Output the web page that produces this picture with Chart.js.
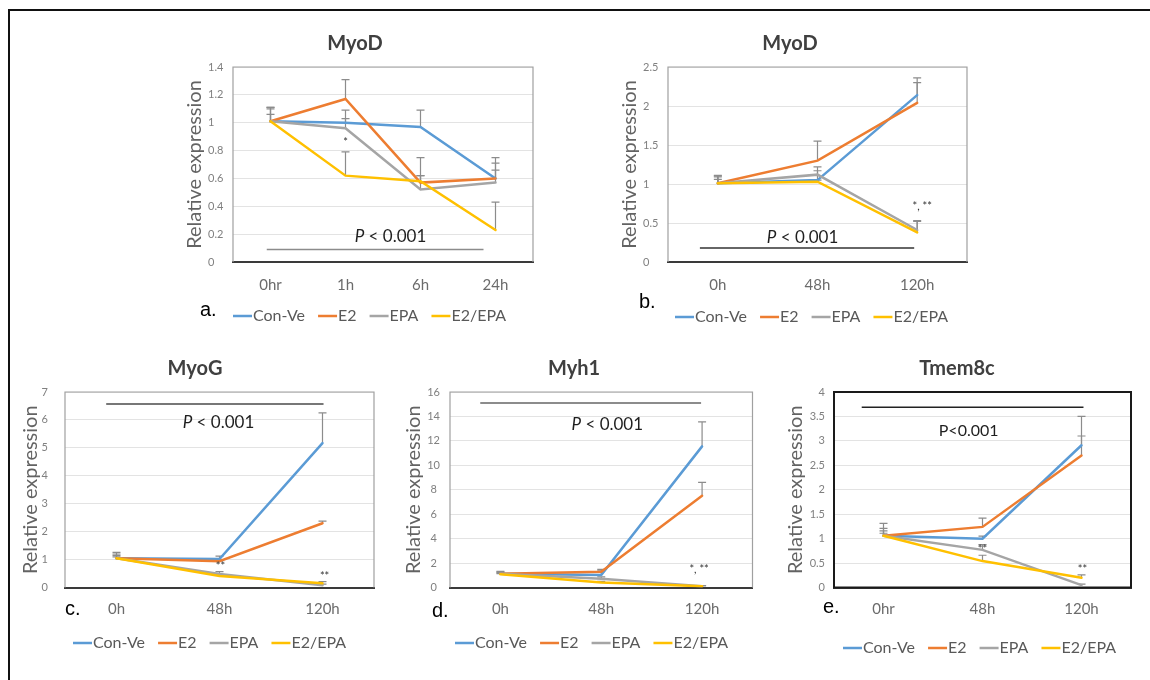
<!DOCTYPE html>
<html>
<head>
<meta charset="utf-8">
<title>MyoD / MyoG / Myh1 / Tmem8c</title>
<script src="https://cdn.jsdelivr.net/npm/chart.js@4.4.0/dist/chart.umd.min.js"></script>
<style>
    html, body { margin: 0; padding: 0; background: #fff; }
    #page { position: relative; width: 1150px; height: 680px; overflow: hidden; }
    #frame { position: absolute; left: 8px; top: 9px; width: 1300px; height: 800px;
             border-left: 2px solid #111; border-top: 2px solid #111; }
    canvas { position: absolute; left: 0; top: 0; }
</style>
</head>
<body>
<div id="page">
    <div id="frame"></div>
    <canvas id="chartA" width="1150" height="680"></canvas>
    <canvas id="chartB" width="1150" height="680"></canvas>
    <canvas id="chartC" width="1150" height="680"></canvas>
    <canvas id="chartD" width="1150" height="680"></canvas>
    <canvas id="chartE" width="1150" height="680"></canvas>
</div>
<script>
// 数据 - 各组相对表达量
const SERIES_NAMES = ['Con-Ve', 'E2', 'EPA', 'E2/EPA'];
const SERIES_COLORS = ['#5B9BD5', '#ED7D31', '#A5A5A5', '#FFC000'];

// a. MyoD (0hr - 24h)
const labelsA = ['0hr', '1h', '6h', '24h'];
const conVeA = [1.01, 1.00, 0.97, 0.60];
const e2A = [1.01, 1.17, 0.57, 0.60];
const epaA = [1.01, 0.96, 0.52, 0.57];
const e2epaA = [1.01, 0.62, 0.58, 0.23];
const errConVeA = [0.10, 0.03, 0.12, 0.06];
const errE2A = [0.09, 0.14, 0.18, 0.15];
const errEpaA = [0.10, 0.13, 0.10, 0.14];
const errE2epaA = [0.05, 0.17, 0.04, 0.20];

// b. MyoD (0h - 120h)
const labelsB = ['0h', '48h', '120h'];
const conVeB = [1.01, 1.05, 2.14];
const e2B = [1.01, 1.30, 2.04];
const epaB = [1.01, 1.12, 0.41];
const e2epaB = [1.01, 1.03, 0.38];
const errConVeB = [0.10, 0.12, 0.22];
const errE2B = [0.08, 0.25, 0.26];
const errEpaB = [0.09, 0.10, 0.12];
const errE2epaB = [0.05, 0.02, 0.14];

// c. MyoG
const labelsC = ['0h', '48h', '120h'];
const conVeC = [1.05, 1.02, 5.17];
const e2C = [1.05, 0.94, 2.30];
const epaC = [1.05, 0.48, 0.08];
const e2epaC = [1.05, 0.41, 0.15];
const errConVeC = [0.21, 0.10, 1.08];
const errE2C = [0.15, 0.05, 0.08];
const errEpaC = [0.10, 0.09, 0.04];
const errE2epaC = [0.05, 0.05, 0.06];

// d. Myh1
const labelsD = ['0h', '48h', '120h'];
const conVeD = [1.12, 1.02, 11.55];
const e2D = [1.12, 1.28, 7.50];
const epaD = [1.12, 0.72, 0.10];
const e2epaD = [1.08, 0.40, 0.10];
const errConVeD = [0.20, 0.35, 2.00];
const errE2D = [0.15, 0.20, 1.10];
const errEpaD = [0.10, 0.15, 0.05];
const errE2epaD = [0.05, 0.10, 0.05];

// e. Tmem8c
const labelsE = ['0hr', '48h', '120h'];
const conVeE = [1.06, 1.00, 2.91];
const e2E = [1.06, 1.24, 2.70];
const epaE = [1.06, 0.77, 0.05];
const e2epaE = [1.06, 0.54, 0.20];
const errConVeE = [0.25, 0.05, 0.59];
const errE2E = [0.15, 0.18, 0.40];
const errEpaE = [0.10, 0.11, 0.02];
const errE2epaE = [0.05, 0.12, 0.06];

const FONT = 'Lato, "Open Sans", sans-serif';
const AXIS_TITLE_SIZE = 20;
Chart.defaults.font.family = FONT;

/**
 * 装饰插件：绘图区边框、误差线、标题、图例、P值与星号
 */
const decorPlugin = {
    id: 'decor',
    beforeDatasetsDraw(chart, args, o) {
        drawPlotBorder(chart, o);
        drawErrorBars(chart, o);
    },
    afterDraw(chart, args, o) {
        drawHeading(chart, o);
        drawLegend(chart, o);
        drawPValue(chart, o);
        drawStars(chart, o);
    }
};

function drawPlotBorder(chart, o) {
    const {ctx, chartArea: a} = chart;
    ctx.save();
    if (o.darkBox) {
        ctx.strokeStyle = '#1a1a1a';
        ctx.lineWidth = 2;
        ctx.strokeRect(a.left, a.top, a.right - a.left, a.bottom - a.top);
    } else {
        ctx.strokeStyle = '#a0a0a0';
        ctx.lineWidth = 1.2;
        ctx.beginPath();
        ctx.moveTo(a.left, a.bottom);
        ctx.lineTo(a.left, a.top);
        ctx.lineTo(a.right, a.top);
        ctx.lineTo(a.right, a.bottom);
        ctx.stroke();
    }
    ctx.restore();
}

function drawErrorBars(chart, o) {
    const {ctx} = chart;
    const ys = chart.scales.y;
    ctx.save();
    ctx.strokeStyle = '#8c8c8c';
    ctx.lineWidth = 1.2;
    chart.data.datasets.forEach((ds, i) => {
        const meta = chart.getDatasetMeta(i);
        ds.errors.forEach((err, j) => {
            const pt = meta.data[j];
            const top = ys.getPixelForValue(ds.data[j] + err);
            ctx.beginPath();
            ctx.moveTo(pt.x, pt.y);
            ctx.lineTo(pt.x, top);
            ctx.moveTo(pt.x - 4, top);
            ctx.lineTo(pt.x + 4, top);
            ctx.stroke();
        });
    });
    ctx.restore();
}

function drawHeading(chart, o) {
    const {ctx} = chart;
    ctx.save();
    ctx.fillStyle = '#404040';
    ctx.font = 'bold 20px ' + FONT;
    ctx.textAlign = 'center';
    ctx.textBaseline = 'alphabetic';
    ctx.fillText(o.title.text, o.title.x, o.title.y);
    ctx.fillStyle = '#000';
    ctx.font = '20px "Liberation Sans", Arial, sans-serif';
    ctx.textAlign = 'left';
    ctx.fillText(o.letter.text, o.letter.x, o.letter.y);
    ctx.restore();
}

function drawLegend(chart, o) {
    const {ctx} = chart;
    let x = o.legend.x;
    const y = o.legend.y;
    ctx.save();
    ctx.font = '16px ' + FONT;
    ctx.textBaseline = 'middle';
    ctx.textAlign = 'left';
    chart.data.datasets.forEach(ds => {
        ctx.strokeStyle = ds.borderColor;
        ctx.lineWidth = 2.5;
        ctx.beginPath();
        ctx.moveTo(x, y);
        ctx.lineTo(x + 19, y);
        ctx.stroke();
        ctx.fillStyle = '#595959';
        ctx.fillText(ds.label, x + 20, y);
        x += 20 + ctx.measureText(ds.label).width + 13;
    });
    ctx.restore();
}

function drawPValue(chart, o) {
    const p = o.pValue;
    const {ctx} = chart;
    const xs = chart.scales.x, ys = chart.scales.y;
    ctx.save();
    ctx.strokeStyle = p.lineColor;
    ctx.lineWidth = 1.5;
    const ly = ys.getPixelForValue(p.lineY);
    ctx.beginPath();
    ctx.moveTo(xs.getPixelForValue(p.from), ly);
    ctx.lineTo(xs.getPixelForValue(p.to), ly);
    ctx.stroke();

    const tx = xs.getPixelForValue(p.textX);
    const ty = ys.getPixelForValue(p.textY);
    ctx.fillStyle = '#1f1f1f';
    ctx.textBaseline = 'middle';
    ctx.textAlign = 'left';
    const head = p.text.charAt(0);
    const rest = p.text.slice(1);
    const headFont = (p.italic ? 'italic ' : '') + p.size + 'px ' + FONT;
    const restFont = p.size + 'px ' + FONT;
    ctx.font = headFont;
    const w1 = ctx.measureText(head).width;
    ctx.font = restFont;
    const w2 = ctx.measureText(rest).width;
    const x0 = tx - (w1 + w2) / 2;
    ctx.font = headFont;
    ctx.fillText(head, x0, ty);
    ctx.font = restFont;
    ctx.fillText(rest, x0 + w1, ty);
    ctx.restore();
}

function drawStars(chart, o) {
    const {ctx} = chart;
    const xs = chart.scales.x, ys = chart.scales.y;
    ctx.save();
    ctx.fillStyle = '#333';
    ctx.font = '11px ' + FONT;
    ctx.textAlign = 'center';
    ctx.textBaseline = 'middle';
    o.stars.forEach(s => {
        ctx.fillText(s.text, xs.getPixelForValue(s.x), ys.getPixelForValue(s.y));
    });
    ctx.restore();
}

/**
 * 创建一个面板（整页大小的透明画布，用 padding 定位绘图区）
 */
function makePanel(p) {
    const area = p.area;
    const Hx = 40;
    const lineH = AXIS_TITLE_SIZE * 1.2;
    const seriesData = [p.conVe, p.e2, p.epa, p.e2epa];
    const seriesErr = [p.errConVe, p.errE2, p.errEpa, p.errE2epa];

    const datasets = SERIES_NAMES.map((name, i) => ({
        label: name,
        data: seriesData[i],
        errors: seriesErr[i],
        borderColor: SERIES_COLORS[i],
        backgroundColor: SERIES_COLORS[i],
        borderWidth: 2.5,
        pointRadius: 0,
        tension: 0,
        fill: false,
        borderCapStyle: 'round',
        order: 4 - i
    }));

    return new Chart(document.getElementById(p.id).getContext('2d'), {
        type: 'line',
        data: { labels: p.labels, datasets },
        options: {
            responsive: false,
            animation: false,
            events: [],
            layout: {
                padding: {
                    left: area.left - p.yWidth,
                    top: area.top,
                    right: 1150 - area.right,
                    bottom: 680 - area.bottom - Hx
                }
            },
            plugins: {
                legend: { display: false },
                title: { display: false },
                tooltip: { enabled: false },
                decor: p.decor
            },
            scales: {
                x: {
                    type: 'category',
                    offset: true,
                    grid: { display: false, drawTicks: false },
                    border: { display: true, color: '#3a3a3a', width: 2 },
                    ticks: { color: '#6b6b6b', font: { size: 15 }, padding: p.xPad, maxRotation: 0 },
                    afterFit: s => { s.height = Hx; }
                },
                y: {
                    min: 0,
                    max: p.yMax,
                    grid: { color: '#e3e3e3', lineWidth: 1, drawTicks: false },
                    border: { display: false },
                    ticks: {
                        stepSize: p.yStep,
                        color: '#808080',
                        font: { size: 11 },
                        crossAlign: p.yAlign,
                        padding: p.yPad,
                        callback: v => String(+Number(v).toFixed(2))
                    },
                    title: {
                        display: true,
                        text: 'Relative expression',
                        color: '#636363',
                        font: { size: AXIS_TITLE_SIZE },
                        padding: { top: p.yTitleX - (area.left - p.yWidth) - lineH / 2, bottom: 0 }
                    },
                    afterFit: s => { s.width = p.yWidth; }
                }
            }
        },
        plugins: [decorPlugin]
    });
}

makePanel({
    id: 'chartA', labels: labelsA,
    conVe: conVeA, e2: e2A, epa: epaA, e2epa: e2epaA,
    errConVe: errConVeA, errE2: errE2A, errEpa: errEpaA, errE2epa: errE2epaA,
    area: { left: 233, top: 67, right: 533, bottom: 262 },
    yMax: 1.4, yStep: 0.2, yWidth: 25, yAlign: 'far', yPad: 3, yTitleX: 195, xPad: 14,
    decor: {
        title: { text: 'MyoD', x: 355, y: 50 },
        letter: { text: 'a.', x: 200, y: 316 },
        legend: { x: 233, y: 316 },
        pValue: { lineY: 0.09, from: -0.05, to: 2.84, lineColor: '#8c8c8c',
                  text: 'P < 0.001', italic: true, size: 17, textX: 1.6, textY: 0.18 },
        stars: [{ text: '*', x: 1, y: 0.86 }]
    }
});

makePanel({
    id: 'chartB', labels: labelsB,
    conVe: conVeB, e2: e2B, epa: epaB, e2epa: e2epaB,
    errConVe: errConVeB, errE2: errE2B, errEpa: errEpaB, errE2epa: errE2epaB,
    area: { left: 668, top: 67, right: 967, bottom: 262 },
    yMax: 2.5, yStep: 0.5, yWidth: 25, yAlign: 'far', yPad: 3, yTitleX: 630, xPad: 14,
    decor: {
        title: { text: 'MyoD', x: 790, y: 50 },
        letter: { text: 'b.', x: 639, y: 308 },
        legend: { x: 675, y: 317 },
        pValue: { lineY: 0.18, from: -0.18, to: 1.97, lineColor: '#333',
                  text: 'P < 0.001', italic: true, size: 17, textX: 0.85, textY: 0.32 },
        stars: [{ text: '*, **', x: 2.05, y: 0.71 }]
    }
});

makePanel({
    id: 'chartC', labels: labelsC,
    conVe: conVeC, e2: e2C, epa: epaC, e2epa: e2epaC,
    errConVe: errConVeC, errE2: errE2C, errEpa: errEpaC, errE2epa: errE2epaC,
    area: { left: 65, top: 392, right: 374, bottom: 587.5 },
    yMax: 7, yStep: 1, yWidth: 30, yAlign: 'near', yPad: 17, yTitleX: 31, xPad: 13,
    decor: {
        title: { text: 'MyoG', x: 195, y: 375 },
        letter: { text: 'c.', x: 65, y: 615 },
        legend: { x: 73, y: 643 },
        pValue: { lineY: 6.57, from: -0.1, to: 2.01, lineColor: '#4a4a4a',
                  text: 'P < 0.001', italic: true, size: 17, textX: 0.99, textY: 5.9 },
        stars: [{ text: '**', x: 1.01, y: 0.77 }, { text: '**', x: 2.02, y: 0.41 }]
    }
});

makePanel({
    id: 'chartD', labels: labelsD,
    conVe: conVeD, e2: e2D, epa: epaD, e2epa: e2epaD,
    errConVe: errConVeD, errE2: errE2D, errEpa: errEpaD, errE2epa: errE2epaD,
    area: { left: 450, top: 392, right: 752.5, bottom: 587.5 },
    yMax: 16, yStep: 2, yWidth: 30, yAlign: 'center', yPad: 10, yTitleX: 414, xPad: 13,
    decor: {
        title: { text: 'Myh1', x: 574, y: 375 },
        letter: { text: 'd.', x: 432, y: 617 },
        legend: { x: 455, y: 643 },
        pValue: { lineY: 15.1, from: -0.2, to: 1.99, lineColor: '#666',
                  text: 'P < 0.001', italic: true, size: 17, textX: 1.06, textY: 13.3 },
        stars: [{ text: '*, **', x: 1.97, y: 1.48 }]
    }
});

makePanel({
    id: 'chartE', labels: labelsE,
    conVe: conVeE, e2: e2E, epa: epaE, e2epa: e2epaE,
    errConVe: errConVeE, errE2: errE2E, errEpa: errEpaE, errE2epa: errE2epaE,
    area: { left: 834, top: 392, right: 1131, bottom: 587.5 },
    yMax: 4, yStep: 0.5, yWidth: 30, yAlign: 'near', yPad: 9, yTitleX: 796, xPad: 13,
    decor: {
        darkBox: true,
        title: { text: 'Tmem8c', x: 957, y: 375 },
        letter: { text: 'e.', x: 823, y: 613 },
        legend: { x: 843, y: 648 },
        pValue: { lineY: 3.69, from: -0.22, to: 2.02, lineColor: '#222',
                  text: 'P<0.001', italic: false, size: 16, textX: 0.86, textY: 3.2 },
        stars: [{ text: '**', x: 1, y: 0.78 }, { text: '**', x: 2.01, y: 0.37 }]
    }
});
</script>
</body>
</html>
